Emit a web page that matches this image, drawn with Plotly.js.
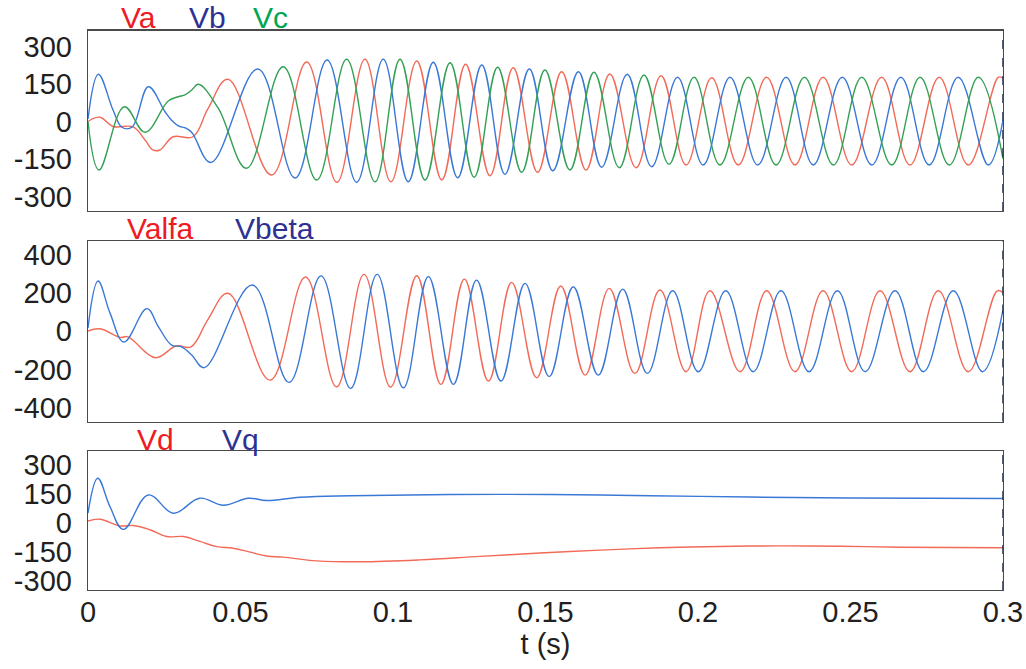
<!DOCTYPE html>
<html>
<head>
<meta charset="utf-8">
<script src="https://cdn.plot.ly/plotly-3.0.1.min.js"></script>
<style>html,body{margin:0;padding:0;background:#fff;}#chart{width:1026px;height:669px;}</style>
</head>
<body>
<div id="chart"></div>
<script>
// ---- Data (time in seconds, voltage in V) ----
const tVa = [0,0.0039,0.0082,0.0148,0.0187,0.0213,0.0236,0.0279,0.0344,0.0393,0.0459,0.0602,0.0717,0.0816,0.0908,0.0993,0.1078,0.1160,0.1238,0.1318,0.1394,0.1474,0.1553,0.1633,0.1711,0.1797,0.1879,0.1961,0.2045,0.2132,0.2225,0.2318,0.2410,0.2504,0.2602,0.2695,0.2791,0.2886,0.2985,0.3];
const Va  = [0,17,-20,-22,-74,-114,-114,-61,-61,50,169,-214,238,-243,249,-241,242,-234,229,-217,215,-203,199,-194,190,-185,183,-174,175,-174,177,-174,177,-174,177,-174,177,-174,177,172];

const tVb = [0,0.0034,0.0082,0.0111,0.0144,0.0198,0.0252,0.0274,0.0296,0.0321,0.0341,0.0403,0.0557,0.0679,0.0784,0.0881,0.0968,0.1050,0.1132,0.1212,0.1291,0.1367,0.1447,0.1524,0.1608,0.1684,0.1768,0.1848,0.1933,0.2017,0.2105,0.2196,0.2289,0.2378,0.2473,0.2570,0.2665,0.2758,0.2853,0.2952,0.3];
const Vb  = [10,189,46,-23,-23,139,40,5,-18,-27,-45,-164,210,-226,246,-243,249,-241,237,-225,226,-211,210,-197,199,-183,189,-181,177,-174,177,-174,177,-174,177,-174,177,-174,177,-174,5];

const tVc = [0,0.0036,0.0119,0.0187,0.0263,0.0296,0.0318,0.0340,0.0362,0.0427,0.0520,0.0640,0.0750,0.0848,0.0941,0.1023,0.1105,0.1187,0.1266,0.1343,0.1422,0.1498,0.1580,0.1659,0.1742,0.1823,0.1905,0.1987,0.2072,0.2165,0.2256,0.2349,0.2444,0.2537,0.2635,0.2728,0.2824,0.2919,0.3];
const Vc  = [0,-194,59,-43,82,99,106,126,149,53,-187,219,-234,249,-241,249,-234,235,-223,217,-203,206,-194,197,-185,186,-171,177,-174,177,-174,177,-174,177,-174,177,-174,177,-150];

const tValfa = [0,0.0039,0.0105,0.0131,0.0221,0.0289,0.0338,0.0393,0.0459,0.0597,0.0713,0.0815,0.0905,0.0992,0.1078,0.1157,0.1234,0.1313,0.1389,0.1471,0.1550,0.1630,0.1709,0.1793,0.1875,0.1961,0.2039,0.2138,0.2225,0.2318,0.2410,0.2504,0.2597,0.2695,0.2788,0.2886,0.2981,0.3];
const Valfa  = [0,12,-33,-30,-139,-78,-82,60,197,-256,282,-291,296,-292,289,-278,271,-261,254,-244,235,-230,223,-221,214,-212,210,-212,210,-212,210,-212,210,-212,210,-212,210,200];

const tVbeta = [0,0.0033,0.0072,0.0118,0.0193,0.0231,0.0274,0.0307,0.0340,0.0381,0.0539,0.0659,0.0764,0.0861,0.0948,0.1034,0.1116,0.1198,0.1274,0.1354,0.1433,0.1512,0.1591,0.1673,0.1753,0.1834,0.1917,0.2001,0.2091,0.2181,0.2272,0.2364,0.2457,0.2548,0.2646,0.2739,0.2837,0.2933,0.3];
const Vbeta  = [16,261,95,-57,117,22,-73,-82,-125,-191,240,-268,288,-299,296,-296,284,-278,266,-261,249,-238,231,-230,219,-221,210,-212,210,-212,210,-212,210,-212,210,-212,210,-212,110];

const tVd = [0,0.0039,0.0105,0.0148,0.0203,0.0258,0.0313,0.0367,0.0422,0.0476,0.0531,0.0586,0.0640,0.0750,0.0892,0.1089,0.1285,0.1482,0.1679,0.1875,0.2072,0.2269,0.2466,0.2662,0.3];
const Vd  = [10,19,-15,-13,-35,-70,-70,-95,-122,-130,-150,-170,-176,-195,-200,-190,-172,-155,-140,-128,-121,-118,-120,-125,-128];

const tVq = [0,0.0032,0.0072,0.0116,0.0198,0.0280,0.0366,0.0444,0.0526,0.0586,0.0695,0.0859,0.1187,0.1515,0.1843,0.2170,0.2498,0.3];
const Vq  = [50,230,84,-33,144,50,127,91,127,115,132,140,146,146,140,133,128,126];

const xTickVals = [0,0.05,0.1,0.15,0.2,0.25,0.3];
const xTickText = ['0','0.05','0.1','0.15','0.2','0.25','0.3'];
const yTicksABC = [-300,-150,0,150,300];
const yTicksAB  = [-400,-200,0,200,400];
const yTicksDQ  = [-300,-150,0,150,300];

// ---- Styles ----
const FONT = 'Liberation Sans, Arial, Helvetica, sans-serif';
const RED = '#f26a58', BLUE = '#3a78d6', GREEN = '#34a055';
const LRED = '#ed1c24', LBLUE = '#2e3192', LGREEN = '#00a651';

function tr(x, y, color, xa, ya, name) {
  return {x: x, y: y, type: 'scatter', mode: 'lines', name: name,
    line: {color: color, width: 1.4, shape: 'spline', smoothing: 1.1},
    xaxis: xa, yaxis: ya, hoverinfo: 'skip'};
}

const data = [
  tr(tVa, Va, RED, 'x', 'y', 'Va'),
  tr(tVb, Vb, BLUE, 'x', 'y', 'Vb'),
  tr(tVc, Vc, GREEN, 'x', 'y', 'Vc'),
  tr(tValfa, Valfa, RED, 'x2', 'y2', 'Valfa'),
  tr(tVbeta, Vbeta, BLUE, 'x2', 'y2', 'Vbeta'),
  tr(tVd, Vd, RED, 'x3', 'y3', 'Vd'),
  tr(tVq, Vq, BLUE, 'x3', 'y3', 'Vq')
];

const box = {showline: true, mirror: true, linecolor: '#4a4a4a', linewidth: 1.3,
  showgrid: false, zeroline: false, ticks: '', fixedrange: true};
const xdom = [88/1026, 1003/1026];
function xax(anchor, labels) {
  return Object.assign({}, box, {domain: xdom, range: [0, 0.3], anchor: anchor,
    tickmode: 'array', tickvals: xTickVals, ticktext: xTickText,
    showticklabels: labels, ticklabelstandoff: -4,
    tickfont: {family: FONT, size: 29, color: '#231f20'}});
}
function yax(anchor, dom, range, ticks) {
  return Object.assign({}, box, {domain: dom, range: range, anchor: anchor,
    tickmode: 'array', tickvals: ticks, ticktext: ticks.map(String),
    ticklabelstandoff: 9, tickfont: {family: FONT, size: 29, color: '#231f20'}});
}

const xa3 = xax('y3', true);
xa3.title = {text: 't (s)', font: {family: FONT, size: 29, color: '#231f20'}, standoff: 0};

function lab(text, xpx, ypx, color) {
  return {text: text, xref: 'paper', yref: 'paper', x: xpx/1026, y: 1 - ypx/669,
    xanchor: 'center', yanchor: 'middle', showarrow: false,
    font: {family: FONT, size: 30, color: color}};
}
function dashEdge(yref) {
  return {type: 'line', xref: 'x', yref: yref + ' domain', x0: 0.3, x1: 0.3, y0: 0, y1: 1,
    line: {color: '#1d2d44', width: 1.5, dash: 'dash'}, layer: 'above'};
}

const layout = {
  width: 1026, height: 669,
  margin: {l: 0, r: 0, t: 0, b: 0},
  paper_bgcolor: '#ffffff', plot_bgcolor: '#ffffff',
  showlegend: false,
  font: {family: FONT, size: 29, color: '#231f20'},
  xaxis: xax('y', false),
  yaxis: yax('x', [1 - 211/669, 1 - 30.7/669], [-358, 363], yTicksABC),
  xaxis2: xax('y2', false),
  yaxis2: yax('x2', [1 - 421.5/669, 1 - 241/669], [-472, 470], yTicksAB),
  xaxis3: xa3,
  yaxis3: yax('x3', [1 - 590/669, 1 - 451/669], [-345, 370], yTicksDQ),
  annotations: [
    lab('Va', 138, 18, LRED), lab('Vb', 207, 18, LBLUE), lab('Vc', 270, 18, LGREEN),
    lab('Valfa', 160, 229, LRED), lab('Vbeta', 274, 229, LBLUE),
    lab('Vd', 155, 439, LRED), lab('Vq', 240, 439, LBLUE)
  ],
  shapes: [dashEdge('y'), dashEdge('y2'), dashEdge('y3')]
};

Plotly.newPlot('chart', data, layout, {staticPlot: true, displayModeBar: false});
</script>
</body>
</html>
